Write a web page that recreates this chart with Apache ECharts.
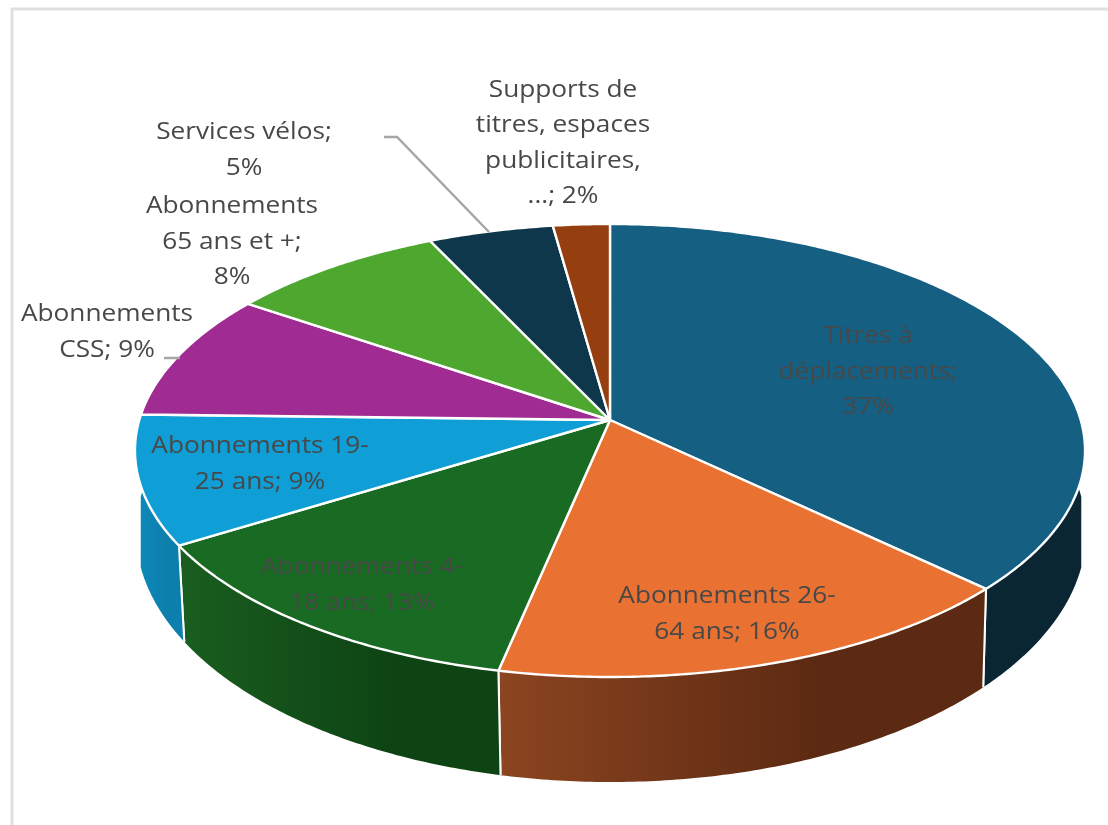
<!DOCTYPE html>
<html><head><meta charset="utf-8">
<style>html,body{margin:0;padding:0;background:#fff}#c{width:1108px;height:825px}</style>
<script src="https://cdn.jsdelivr.net/npm/echarts@6/dist/echarts.min.js"></script>
</head><body><div id="c"></div>
<script>
const categories = ["Titres à déplacements","Abonnements 26-64 ans","Abonnements 4-18 ans","Abonnements 19-25 ans","Abonnements CSS","Abonnements 65 ans et +","Services vélos","Supports de titres, espaces publicitaires, ..."];
const values = [37.1,16.2,12.9,9.2,9.1,8.45,4.85,2.2];
const percentLabels = ["37%","16%","13%","9%","9%","8%","5%","2%"];
const labelLines = [
 ["Titres à","déplacements;","37%"],
 ["Abonnements 26-","64 ans; 16%"],
 ["Abonnements 4-","18 ans; 13%"],
 ["Abonnements 19-","25 ans; 9%"],
 ["Abonnements","CSS; 9%"],
 ["Abonnements","65 ans et +;","8%"],
 ["Services vélos;","5%"],
 ["Supports de","titres, espaces","publicitaires,","...; 2%"]
];
const topColors = ["#156082","#E97132","#196B24","#0F9ED5","#A02B93","#4EA72E","#0F374B","#953F10"];
const sideColors = [["#0A2A3A","#0A2633"],["#8C4520","#5C2A12"],["#1A5E20","#0E4414"],["#0C8ABC","#0D7FAC"],["#6A1C62","#6A1C62"],["#32701E","#32701E"],["#0A2533","#0A2533"],["#64290A","#64290A"]];
const labelPos = [[868,372],[727,614],[362,585],[260,464],[107,332],[232,242],[244,150],[563,143]];

const APEX=[610,420], RX=470.7, RY=222.4, K=0.1346;
const TOP_CY=450, BOT_CX=611, BOT_CY=532, BOT_RX=475, BOT_RY=250, BOT_XSCALE=0.99;
const total = values.reduce((a,b)=>a+b,0);
function cum(i){let s=0;for(let j=0;j<i;j++)s+=values[j];return s/total*Math.PI*2;}
function proj(t){const u=Math.sin(t),v=-Math.cos(t),w=1-K*v;return [APEX[0]+RX*u/w,APEX[1]+RY*v/w];}
function low(p){
  const x=BOT_CX+(p[0]-APEX[0])*BOT_XSCALE, s=(x-BOT_CX)/BOT_RX;
  const d=BOT_RY*Math.sqrt(Math.max(0,1-s*s));
  return [x,BOT_CY+(p[1]<TOP_CY?-d:d)];
}
function arc(a,b){const n=Math.max(2,Math.ceil((b-a)/0.01));const r=[];for(let i=0;i<=n;i++)r.push(proj(a+(b-a)*i/n));return r;}

function renderSide(params,api){
  const i=api.value(0), a=cum(i), b=cum(i+1), top=arc(a,b), bot=top.map(low).reverse();
  const children=[{type:'polygon',shape:{points:top.concat(bot)},
    style:{fill:new echarts.graphic.LinearGradient(0,0,1,0,[{offset:0,color:sideColors[i][0]},{offset:0.65,color:sideColors[i][1]},{offset:1,color:sideColors[i][1]}])}}];
  [a,b].forEach(t=>{ if(-Math.cos(t)>0.05){const p=proj(t),q=low(p);children.push({type:'line',shape:{x1:p[0],y1:p[1],x2:q[0],y2:q[1]},style:{stroke:'#fff',lineWidth:2}});}});
  return {type:'group',children};
}
function renderTop(params,api){
  const i=api.value(0), pts=[APEX].concat(arc(cum(i),cum(i+1)));
  return {type:'polygon',shape:{points:pts},style:{fill:topColors[i],stroke:'#fff',lineWidth:2.4,lineJoin:'round'}};
}
function renderLabel(params,api){
  const i=api.value(0);
  return {type:'text',x:labelPos[i][0],y:labelPos[i][1],scaleX:1.07,style:{text:labelLines[i].join('\n'),x:0,y:0,align:'center',verticalAlign:'middle',
    font:'24.5px "Open Sans"',lineHeight:35.5,fill:'#484848'}};
}
const rows=values.map((v,i)=>[i,v,categories[i],percentLabels[i]]);
const layer=(fn,z)=>({type:'custom',coordinateSystem:'none',renderItem:fn,data:rows,z,silent:true,clip:false,animation:false});
const chart=echarts.init(document.getElementById('c'));
chart.setOption({
  animation:false,backgroundColor:'#fff',
  graphic:[
    {type:'polyline',shape:{points:[[12,825],[12,9],[1108,9]]},style:{stroke:'#E0E0E0',lineWidth:3,fill:null},z:1},
    {type:'polyline',shape:{points:[[384,137],[397,137],[489,232]]},style:{stroke:'#A6A6A6',lineWidth:2.5,fill:null},z:20},
    {type:'line',shape:{x1:164,y1:358,x2:180,y2:358},style:{stroke:'#A6A6A6',lineWidth:2.5},z:20}
  ],
  series:[layer(renderSide,2),layer(renderTop,3),layer(renderLabel,10)]
});
</script></body></html>
